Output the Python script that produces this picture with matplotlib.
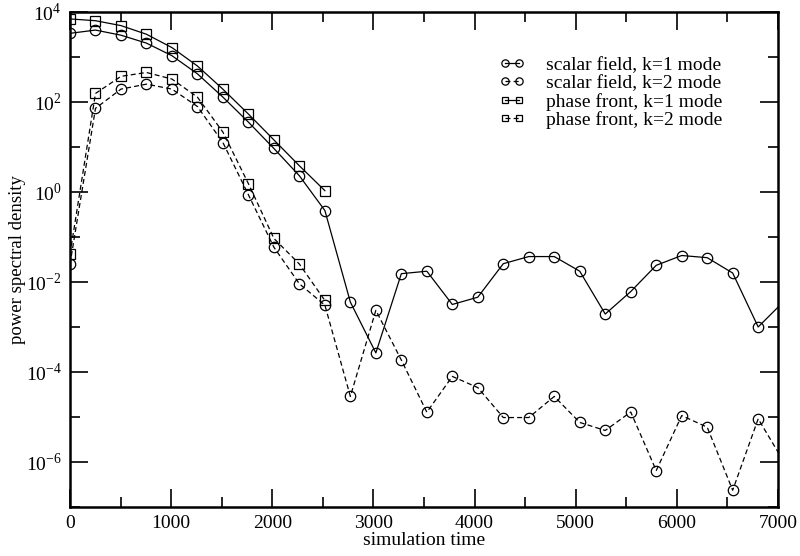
import matplotlib
matplotlib.use('Agg')
import matplotlib.pyplot as plt
from matplotlib.ticker import FixedLocator, FuncFormatter, MultipleLocator
import numpy as np

plt.rcParams['font.family'] = ['Liberation Serif', 'DejaVu Serif']
plt.rcParams['mathtext.fontset'] = 'custom'
plt.rcParams['mathtext.rm'] = 'Liberation Serif'

# sampling times (one output every ~252 time units)
t = [i * 252 for i in range(29)]

scalar_k1 = [3300, 3900, 3000, 2000, 1050, 415, 126, 35, 9.1, 2.25, 0.38,
             0.0035, 2.6e-4, 0.015, 0.017, 0.0031, 0.0045, 0.025, 0.036,
             0.036, 0.017, 0.0019, 0.006, 0.023, 0.038, 0.034, 0.0155,
             9.8e-4, 0.0036]
scalar_k2 = [0.0245, 71, 190, 245, 190, 78, 12.3, 0.85, 0.058, 0.0089, 0.003,
             2.8e-5, 0.0023, 1.8e-4, 1.25e-5, 7.8e-5, 4.4e-5, 9.5e-6, 9.5e-6,
             2.8e-5, 7.4e-6, 4.9e-6, 1.26e-5, 6.3e-7, 1.05e-5, 5.8e-6, 2.3e-7,
             8.9e-6, 1.0e-6]
phase_k1 = [6900, 6300, 4900, 3150, 1590, 620, 189, 53, 14.1, 3.75, 1.05]
phase_k2 = [0.041, 152, 365, 445, 318, 126, 21, 1.5, 0.091, 0.0245, 0.0038]

fig = plt.figure(figsize=(8, 5.56), dpi=100)
ax = fig.add_axes([0.0875, 0.089, 0.885, 0.89])

kw = dict(color='black', lw=0.9, mfc='none', mec='black', mew=0.9, clip_on=True)
ax.plot(t, scalar_k1, '-', marker='o', ms=7.5, label='scalar field, k=1 mode', **kw)
ax.plot(t, scalar_k2, '--', marker='o', ms=7.5, dashes=(4, 2.5), label='scalar field, k=2 mode', **kw)
ax.plot(t[:len(phase_k1)], phase_k1, '-', marker='s', ms=6.5, label='phase front, k=1 mode', **kw)
ax.plot(t[:len(phase_k2)], phase_k2, '--', marker='s', ms=6.5, dashes=(4, 2.5), label='phase front, k=2 mode', **kw)

ax.set_yscale('log')
ax.set_xlim(0, 7000)
ax.set_ylim(1e-7, 1e4)

ax.xaxis.set_major_locator(MultipleLocator(1000))
ax.xaxis.set_minor_locator(MultipleLocator(500))
ax.yaxis.set_major_locator(FixedLocator([10.0**e for e in range(-6, 5, 2)]))
ax.yaxis.set_minor_locator(FixedLocator([10.0**e for e in range(-7, 4, 2)]))
ax.yaxis.set_major_formatter(FuncFormatter(lambda v, p: '$10^{%d}$' % round(np.log10(v))))
ax.yaxis.set_minor_formatter(FuncFormatter(lambda v, p: ''))

ax.tick_params(which='both', direction='in', top=True, right=True, labelsize=14, width=1.2)
ax.tick_params(which='major', length=13, pad=6)
ax.tick_params(which='minor', length=7)
for s in ax.spines.values():
    s.set_linewidth(1.8)

ax.set_xlabel('simulation time', fontsize=14, labelpad=0)
ax.set_ylabel('power spectral density', fontsize=13.5, labelpad=0)

leg = ax.legend(loc='upper right', bbox_to_anchor=(0.941, 0.937), frameon=False, fontsize=14,
                handlelength=1.35, handletextpad=1.1, labelspacing=0.03, markerscale=0.7,
                numpoints=2, borderpad=0.2)

fig.savefig('out.png', dpi=100)
